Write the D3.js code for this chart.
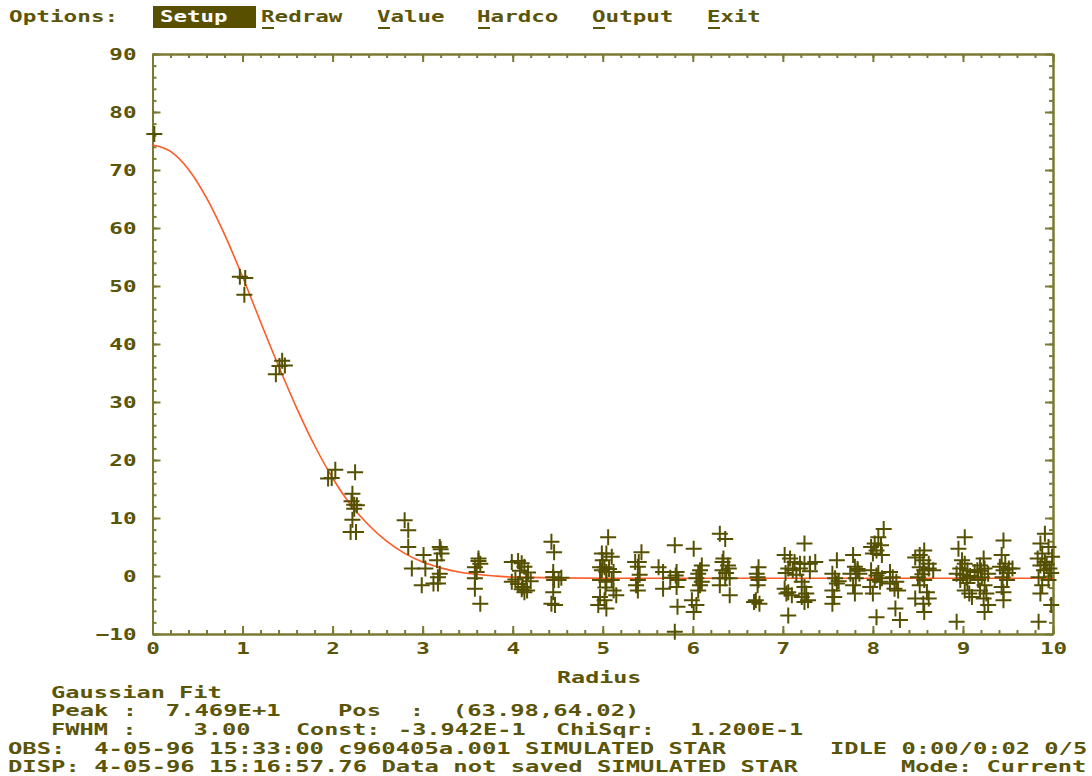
<!DOCTYPE html>
<html>
<head>
<meta charset="utf-8">
<script src="https://cdn.jsdelivr.net/npm/d3@7"></script>
<style>
  html, body { margin: 0; padding: 0; background: #ffffff; }
  svg { display: block; }
  text { font-family: "DejaVu Sans Mono", monospace; font-weight: bold; white-space: pre; }
</style>
</head>
<body>
<svg id="chart" width="1092" height="776"></svg>
<script>
// ---------- data ----------
const xTicks = [0, 1, 2, 3, 4, 5, 6, 7, 8, 9, 10];
const yTicks = [-10, 0, 10, 20, 30, 40, 50, 60, 70, 80, 90];
const xMinorStep = 0.2;
const yMinorStep = 2;

// fitted Gaussian curve
const curveRadius = [0, 0.2, 0.4, 0.6, 0.8, 1.0, 1.2, 1.4, 1.6, 1.8, 2.0, 2.2, 2.4, 2.6, 2.8, 3.0, 3.2, 3.4, 3.6, 3.8, 4.0, 5, 6, 7, 8, 9, 10];
const curveValue  = [74.3, 73.2, 70.1, 65.2, 58.9, 51.6, 43.8, 36.2, 29.0, 22.5, 16.9, 12.3, 8.8, 6.0, 3.9, 2.4, 1.4, 0.7, 0.3, 0.0, -0.2, -0.4, -0.4, -0.4, -0.4, -0.4, -0.4];

// measured samples [radius, value]
const samples = [
  [0.02,76.2],
  [0.97,51.6],[1.03,51.4],[1.02,48.5],
  [1.37,34.8],[1.41,36.2],[1.44,37.1],[1.47,36.3],
  [1.95,16.8],[1.99,16.9],[2.03,18.3],
  [2.25,17.9],[2.22,14.2],[2.21,12.9],[2.24,12.3],[2.27,12.2],[2.24,11.6],[2.22,9.7],[2.20,7.6],[2.26,7.6],
  [2.80,9.6],[2.84,7.9],[2.84,5.0],[2.88,1.3],[2.99,-1.6],[3.01,3.6],[3.03,1.3],[3.12,-1.3],[3.17,-1.3],[3.19,5.0],[3.21,3.9],[3.16,2.7],[3.19,0.4],[3.17,-0.2],[3.20,4.6],
  [3.62,3.0],[3.64,2.1],[3.58,1.5],[3.60,0.7],[3.58,-0.4],[3.58,-2.2],[3.64,-4.8],[3.62,2.6],
  [3.99,2.4],[3.99,-1.0],[4.06,2.6],[4.10,2.2],[4.13,1.6],[4.08,0.9],[4.17,0.6],[4.15,-0.3],[4.20,-0.9],[4.06,-1.4],[4.10,-2.3],[4.13,-2.8],[4.16,-2.5],[4.03,-0.6],[4.11,-1.9],
  [4.43,5.9],[4.46,4.1],[4.45,0.7],[4.46,-0.7],[4.51,-0.7],[4.54,-0.3],[4.45,-2.8],[4.43,-4.8],[4.47,-5.0],[4.45,-0.2],
  [5.06,6.7],[4.99,3.9],[5.04,3.9],[5.10,3.3],[4.97,1.5],[5.02,1.5],[5.07,1.2],[4.99,1.0],[5.04,0.7],[5.12,0.7],[4.97,-0.7],[5.04,-1.0],[5.10,-0.7],[5.12,-2.5],[5.15,-3.3],[4.97,-3.6],[5.02,-4.2],[4.95,-5.0],[5.04,-5.6],[5.00,2.7],[5.03,-2.0],
  [5.43,4.1],[5.36,2.4],[5.40,2.4],[5.39,1.6],[5.39,-0.7],[5.37,-1.6],[5.39,-2.5],[5.41,0.2],
  [5.62,1.5],[5.67,0.7],[5.67,-2.2],[5.80,5.3],[5.82,0.7],[5.81,0.1],[5.84,-0.7],[5.82,-1.9],[5.83,-5.3],[5.80,-9.6],[5.75,-0.3],
  [6.01,4.7],[6.10,1.8],[6.08,1.0],[6.06,0.4],[6.04,-0.4],[6.10,-1.0],[6.06,-2.5],[5.99,-4.2],[6.04,-5.0],[6.01,-6.2],[6.08,-1.6],
  [6.30,7.3],[6.36,6.4],[6.33,2.4],[6.39,1.8],[6.40,1.3],[6.30,-0.4],[6.36,-0.4],[6.41,-0.4],[6.30,-1.6],[6.41,-3.3],[6.34,3.0],[6.37,0.5],[6.33,1.0],
  [6.73,1.5],[6.71,0.4],[6.73,-0.7],[6.72,-1.6],[6.70,-4.2],[6.74,-4.8],[6.68,-4.5],[6.72,-0.2],
  [7.02,3.6],[7.08,3.0],[7.13,2.4],[7.19,2.1],[7.24,2.1],[7.30,2.1],[7.36,2.4],[7.06,1.3],[7.11,1.0],[7.19,1.3],[7.24,5.6],[7.02,-2.2],[7.06,-2.8],[7.10,-3.3],[7.04,-3.0],[7.21,-1.0],[7.24,-1.9],[7.26,-3.0],[7.21,-3.6],[7.28,-4.2],[7.24,-4.5],[7.06,-6.8],[7.15,0.2],[7.30,0.8],[7.03,0.5],
  [7.60,2.7],[7.55,0.4],[7.58,-0.4],[7.60,-1.3],[7.55,-2.5],[7.57,-3.6],[7.55,-4.8],[7.62,-0.9],
  [7.78,3.6],[7.80,1.6],[7.83,0.9],[7.85,0.4],[7.75,0.4],[7.81,-0.4],[7.78,-1.6],[7.80,-3.0],[7.83,1.2],
  [8.12,8.1],[8.06,6.7],[8.02,5.6],[7.98,5.0],[8.09,5.3],[8.04,4.4],[8.00,3.9],[8.10,3.6],[7.98,1.0],[8.04,0.1],[8.10,-0.4],[8.02,-0.7],[7.97,-1.9],[8.00,-3.0],[8.04,-7.1],[8.06,0.5],[8.08,-1.0],
  [8.19,0.7],[8.22,-0.2],[8.19,-1.3],[8.24,-2.2],[8.26,-1.0],[8.28,-2.5],[8.25,-5.6],[8.30,-7.6],
  [8.57,4.4],[8.52,3.6],[8.47,3.2],[8.56,2.7],[8.62,2.1],[8.52,1.5],[8.57,1.0],[8.62,1.3],[8.67,1.0],[8.50,-0.2],[8.57,-0.7],[8.52,-1.6],[8.60,-2.8],[8.47,-3.9],[8.56,-4.8],[8.62,-3.9],[8.57,-6.2],[8.55,0.3],
  [9.02,6.7],[8.95,4.7],[8.99,2.7],[9.02,2.1],[8.97,1.3],[9.05,1.0],[8.93,0.4],[9.00,0.2],[9.04,-0.3],[8.97,-0.7],[9.02,-2.5],[9.07,-3.0],[9.10,-3.6],[8.93,-7.9],[9.08,0.0],[9.05,-1.2],
  [9.23,3.0],[9.19,1.8],[9.24,1.3],[9.13,0.7],[9.28,0.4],[9.21,-0.2],[9.17,-0.7],[9.24,-1.6],[9.19,-2.5],[9.26,-3.0],[9.23,-3.9],[9.28,-5.0],[9.24,-6.2],[9.20,0.9],[9.16,1.0],
  [9.45,6.1],[9.43,3.6],[9.47,2.1],[9.41,1.6],[9.51,1.3],[9.45,1.0],[9.55,1.3],[9.44,-0.2],[9.49,-0.7],[9.43,-1.9],[9.45,-2.8],[9.45,-4.2],[9.50,0.5],
  [9.91,7.3],[9.86,5.6],[9.95,5.0],[9.88,3.9],[9.83,3.0],[9.99,3.3],[9.91,2.4],[9.86,1.8],[9.96,1.3],[9.90,1.0],[9.84,-0.2],[9.95,-0.7],[9.88,-1.6],[9.86,-3.0],[9.98,-5.0],[9.84,-7.9],[9.98,0.5],[9.93,2.0]
];

const menuLabel = "Options:";
const menuItems = ["Setup", "Redraw", "Value", "Hardco", "Output", "Exit"];
const xAxisTitle = "Radius";
const fitTitle = "Gaussian Fit";
const peakLine = [["Peak :  7.469E+1    Pos  :  (63.98,64.02)", 51]];
const fwhmLine = [["FWHM :    3.00", 51], ["Const:", 296], ["-3.942E-1", 398], ["ChiSqr:", 556], ["1.200E-1", 690]];
const obsLine  = [["OBS:  4-05-96 15:33:00 c960405a.001 SIMULATED STAR", 8], ["IDLE 0:00/0:02 0/5", 830]];
const dispLine = [["DISP: 4-05-96 15:16:57.76 Data not saved SIMULATED STAR", 8], ["Mode: Current", 901]];

// ---------- style ----------
const AXIS = "#7a7a35";
const INK = "#5a5508";
const MARK = "#555000";
const CURVE = "#ff5a26";
const CW = 14.4;     // character cell of the status lines
const CW_MENU = 13.9;

const svg = d3.select("#chart");
svg.append("rect").attr("width", 1092).attr("height", 776).attr("fill", "#fff");

const plotL = 152.5, plotR = 1053, plotT = 54, plotB = 634;
const x = d3.scaleLinear().domain([0, 10]).range([plotL, plotR]);
const y = d3.scaleLinear().domain([-10, 90]).range([plotB, plotT]);

function mono(g, str, px, py, fill, cw) {
  return g.append("text")
    .attr("x", px).attr("y", py)
    .attr("font-size", 16)
    .attr("fill", fill || INK)
    .attr("textLength", str.length * (cw || CW) - 2)
    .attr("lengthAdjust", "spacingAndGlyphs")
    .text(str);
}

// ---------- menu ----------
const menuX = [160, 261, 377, 477, 592, 707];
mono(svg, menuLabel, 9, 22, INK, CW_MENU);
svg.append("rect").attr("x", 153).attr("y", 6).attr("width", 103).attr("height", 22).attr("fill", "#585000");
menuItems.forEach((m, i) => {
  mono(svg, m, menuX[i], 22, i === 0 ? "#ffffff" : INK, CW_MENU);
  if (i > 0) {
    svg.append("line").attr("x1", menuX[i] + 1).attr("x2", menuX[i] + 13)
      .attr("y1", 28).attr("y2", 28).attr("stroke", INK).attr("stroke-width", 2);
  }
});

// ---------- axes ----------
const xMinor = d3.range(0, 10.0001, xMinorStep);
const yMinor = d3.range(-10, 90.0001, yMinorStep);

function styleAxis(g) {
  g.selectAll("path.domain").attr("stroke", AXIS).attr("stroke-width", 2);
  g.selectAll(".tick line").attr("stroke", AXIS).attr("stroke-width", 2);
}

// minor ticks
svg.append("g").attr("transform", `translate(0,${plotB})`)
  .call(d3.axisBottom(x).tickValues(xMinor).tickSize(-4).tickSizeOuter(0).tickFormat(""))
  .call(styleAxis);
svg.append("g").attr("transform", `translate(0,${plotT})`)
  .call(d3.axisTop(x).tickValues(xMinor).tickSize(-4).tickSizeOuter(0).tickFormat(""))
  .call(styleAxis);
svg.append("g").attr("transform", `translate(${plotL},0)`)
  .call(d3.axisLeft(y).tickValues(yMinor).tickSize(-4).tickSizeOuter(0).tickFormat(""))
  .call(styleAxis);
svg.append("g").attr("transform", `translate(${plotR},0)`)
  .call(d3.axisRight(y).tickValues(yMinor).tickSize(-4).tickSizeOuter(0).tickFormat(""))
  .call(styleAxis);

// major ticks
const gx = svg.append("g").attr("transform", `translate(0,${plotB})`)
  .call(d3.axisBottom(x).tickValues(xTicks).tickSize(-8).tickSizeOuter(0).tickPadding(17).tickFormat(d3.format("d")))
  .call(styleAxis);
svg.append("g").attr("transform", `translate(0,${plotT})`)
  .call(d3.axisTop(x).tickValues(xTicks).tickSize(-8).tickSizeOuter(0).tickFormat(""))
  .call(styleAxis);
const gy = svg.append("g").attr("transform", `translate(${plotL},0)`)
  .call(d3.axisLeft(y).tickValues(yTicks).tickSize(-8).tickSizeOuter(0).tickPadding(16).tickFormat(d3.format("d")))
  .call(styleAxis);
svg.append("g").attr("transform", `translate(${plotR},0)`)
  .call(d3.axisRight(y).tickValues(yTicks).tickSize(-8).tickSizeOuter(0).tickFormat(""))
  .call(styleAxis);

[gx, gy].forEach(g => {
  g.selectAll(".tick text")
    .attr("fill", INK)
    .attr("font-family", "DejaVu Sans Mono, monospace")
    .attr("font-weight", "bold")
    .attr("font-size", 16)
    .attr("textLength", d => String(d).length * 13.6)
    .attr("lengthAdjust", "spacingAndGlyphs");
});
gx.selectAll(".tick text").attr("dy", "0.2em");
gy.selectAll(".tick text").attr("dy", "0.36em");

// ---------- curve ----------
const curvePts = curveRadius.map((r, i) => [r, curveValue[i]]);
svg.append("path")
  .datum(curvePts)
  .attr("fill", "none")
  .attr("stroke", CURVE)
  .attr("stroke-width", 1.6)
  .attr("d", d3.line().x(d => x(d[0])).y(d => y(d[1])).curve(d3.curveMonotoneX));

// ---------- crosses ----------
svg.append("g").selectAll("path.cross")
  .data(samples)
  .join("path")
  .attr("class", "cross")
  .attr("fill", "none")
  .attr("stroke", MARK)
  .attr("stroke-width", 2)
  .attr("d", d => {
    const cx = x(d[0]), cy = y(d[1]);
    return `M${cx - 8},${cy}h16M${cx},${cy - 8}v16`;
  });

// ---------- bottom texts ----------
mono(svg, xAxisTitle, 557, 683);
mono(svg, fitTitle, 51, 698);
peakLine.forEach(([s, px]) => mono(svg, s, px, 716));
fwhmLine.forEach(([s, px]) => mono(svg, s, px, 735));
obsLine.forEach(([s, px]) => mono(svg, s, px, 754));
dispLine.forEach(([s, px]) => mono(svg, s, px, 772));
</script>
</body>
</html>
